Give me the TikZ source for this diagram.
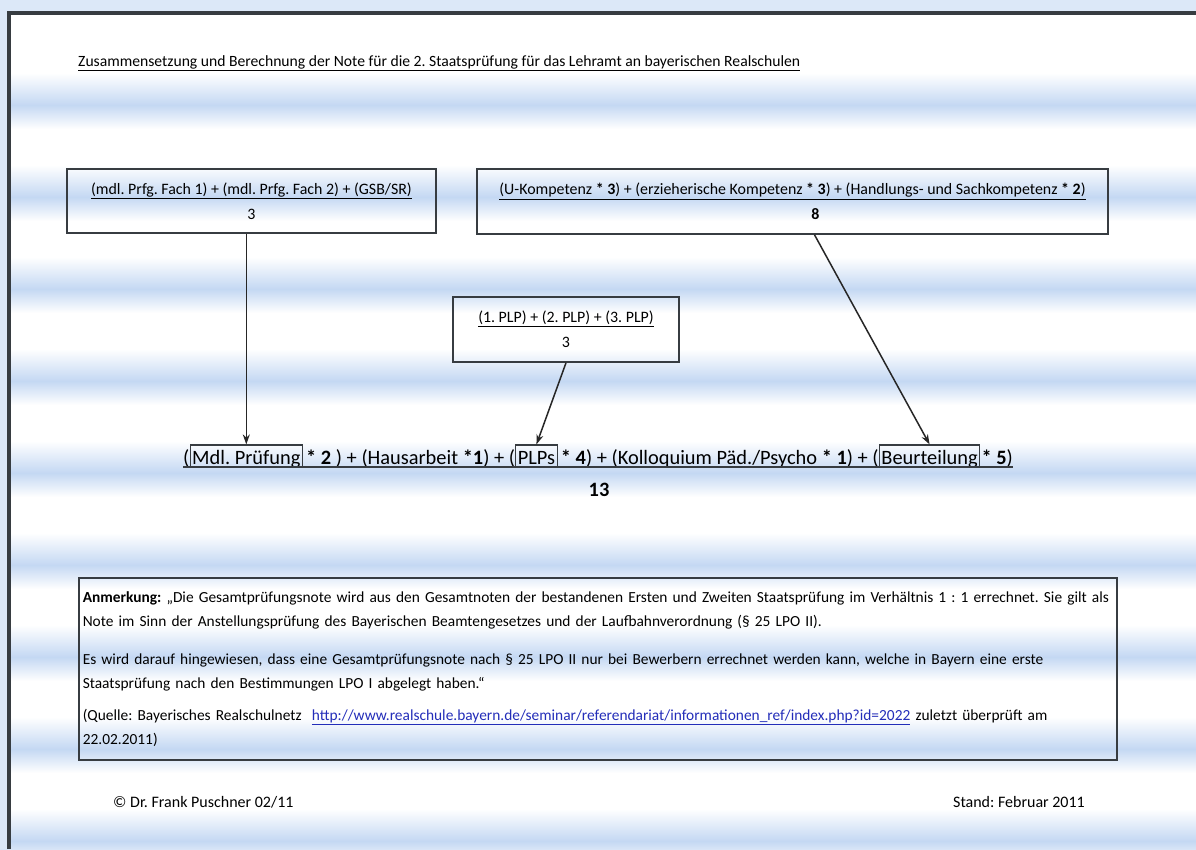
\documentclass[tikz,border=0pt]{standalone}
\usepackage{fontspec}
\setmainfont{Carlito}
\usetikzlibrary{arrows.meta}
\definecolor{bandblue}{RGB}{196,216,243}
\definecolor{framegray}{RGB}{55,60,65}
\definecolor{linkblue}{RGB}{35,45,185}
\frenchspacing
\begin{document}
\begin{tikzpicture}[x=1pt, y=-1pt,
                calc/.style={draw=framegray, line width=1.6pt, rectangle, align=center, font=\fontsize{15.9}{25}\selectfont},
                word/.style={anchor=base west, inner sep=0pt, font=\fontsize{20.4}{24}\selectfont},
                wordbox/.style={word, draw=framegray, line width=1.2pt, inner xsep=2pt, text height=19pt, text depth=3pt},
                arrow/.style={-{Stealth[length=10pt, width=7pt]}, line width=1.5pt, draw=black!85}]

                \useasboundingbox (0,0) rectangle (1196,849);
                \fill[white] (0,0) rectangle (1196,849);
                % blue stripes of the page
                \foreach \yb in {105,197,289,381,473,565,657,749,841}{
                    \shade[top color=white, bottom color=bandblue] (0,\yb-32) rectangle (1196,\yb);
                    \shade[top color=bandblue, bottom color=white] (0,\yb) rectangle (1196,\yb+24);
                }
                \fill[bandblue!60] (0,0) rectangle (1196,11);
                \fill[bandblue!60] (0,0) rectangle (7,849);
                \draw[framegray, line width=3.5pt] (9,849) -- (9,13) -- (1196,13);

                \node[anchor=base west, inner sep=0pt, font=\fontsize{15.65}{18}\selectfont] (title) at (78,66) {\underline{Zusammensetzung und Berechnung der Note für die 2. Staatsprüfung für das Lehramt an bayerischen Realschulen}};

                \node[calc, minimum width=369pt, minimum height=64pt] (mdlbox) at (251.5,201) {\underline{(mdl. Prfg. Fach 1) + (mdl. Prfg. Fach 2) + (GSB/SR)}\\3};
                \node[calc, minimum width=631pt, minimum height=65pt] (kompbox) at (792.5,201.5) {\underline{(U-Kompetenz \textbf{* 3}) + (erzieherische Kompetenz \textbf{* 3}) + (Handlungs- und Sachkompetenz \textbf{* 2})}\\\hspace*{46pt}\textbf{8}};
                \node[calc, minimum width=226pt, minimum height=65pt] (plpbox) at (566,329.5) {\underline{(1. PLP) + (2. PLP) + (3. PLP)}\\3};

                \node[word] (open) at (183,464) {(};
                \node[wordbox] (mdl) at (open.base east) {Mdl. Prüfung\hspace{6pt}};
                \node[word] (mid1) at ([xshift=3pt]mdl.base east) {\textbf{* 2} ) + (Hausarbeit \textbf{*1}) + (};
                \node[wordbox] (plps) at (mid1.base east) {PLPs\hspace{4pt}};
                \node[word] (mid2) at ([xshift=3pt]plps.base east) {\textbf{* 4}) + (Kolloquium Päd./Psycho \textbf{* 1}) + (};
                \node[wordbox] (beurt) at (mid2.base east) {Beurteilung};
                \node[word] (close) at ([xshift=1pt]beurt.base east) {\textbf{* 5})};
                \draw[framegray, line width=1.8pt] ([yshift=-3pt]open.base west) -- ([yshift=-3pt]close.base east);
                \node[font=\bfseries\fontsize{20.4}{24}\selectfont] (sum) at (599,490) {13};

                \draw[arrow] (mdl.north |- mdlbox.south) -- (mdl.north);
                \draw[arrow] (plpbox.south) -- (plps.north);
                \draw[arrow] ([xshift=22pt]kompbox.south) -- (beurt.north);

                \node[draw=framegray, line width=1.6pt, anchor=north west, text width=1030pt, minimum height=182pt, align=left, inner xsep=4pt, font=\fontsize{15.4}{24}\selectfont] (note) at (78,577) {\textbf{Anmerkung:} „Die Gesamtprüfungsnote wird aus den Gesamtnoten der bestandenen Ersten und Zweiten Staatsprüfung im Verhältnis 1 : 1 errechnet. Sie gilt als\\
                Note im Sinn der Anstellungsprüfung des Bayerischen Beamtengesetzes und der Laufbahnverordnung (§ 25 LPO II).\\[14pt]
                Es wird darauf hingewiesen, dass eine Gesamtprüfungsnote nach § 25 LPO II nur bei Bewerbern errechnet werden kann, welche in Bayern eine erste\\
                Staatsprüfung nach den Bestimmungen LPO I abgelegt haben.“\\[8pt]
                (Quelle: Bayerisches Realschulnetz\ \ \textcolor{linkblue}{\underline{http://www.realschule.bayern.de/seminar/referendariat/informationen\_ref/index.php?id=2022}} zuletzt überprüft am\\
                22.02.2011)};

                \node[anchor=base west, inner sep=0pt, font=\fontsize{16}{19}\selectfont] (author) at (113,807) {© Dr. Frank Puschner 02/11};
                \node[anchor=base east, inner sep=0pt, font=\fontsize{16}{19}\selectfont] (stand) at (1085,807) {Stand: Februar 2011};
\end{tikzpicture}
\end{document}
